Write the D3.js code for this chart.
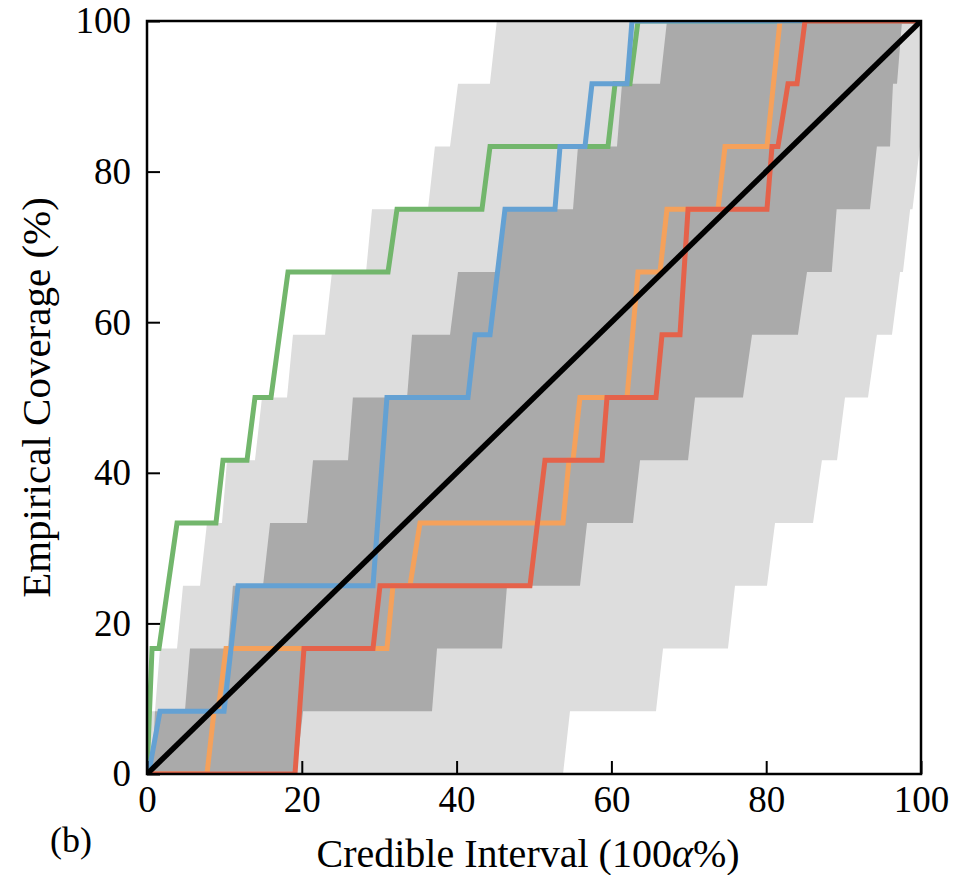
<!DOCTYPE html>
<html>
<head>
<meta charset="utf-8">
<script src="https://cdn.jsdelivr.net/npm/d3@7"></script>
<style>
  body { margin: 0; background: #fff; }
  text { font-family: "Liberation Serif", "DejaVu Serif", serif; fill: #000; }
</style>
</head>
<body>
<svg id="viz"></svg>
<script>
var width = 968;
var height = 875;
var margin = {top: 21, right: 47, bottom: 101, left: 147};

// coverage levels (k / 12)
var levels = [0, 8.33, 16.67, 25, 33.33, 41.67, 50, 58.33, 66.67, 75, 83.33, 91.67, 100];

// outer band (light): left edge, x at bottom / top of each step
var outerUpperBottom = [0.0, 1.03, 3.88, 6.85, 9.69, 13.95, 18.09, 23.0, 28.3, 36.3, 39.15, 44.3];
var outerUpperTop    = [0.5, 1.68, 4.65, 7.75, 10.34, 14.86, 18.86, 23.9, 29.07, 37.2, 40.18, 45.2];
// outer band: right edge
var outerLowerBottom = [53.75, 65.76, 75.06, 80.1, 86.05, 89.15, 93.15, 96.25, 97.67, 98.9, 100, 100];
var outerLowerTop    = [54.65, 66.67, 75.97, 81.14, 87.2, 90.18, 94.3, 97.3, 98.6, 99.87, 100, 100];

// inner band (dark)
var innerUpperBottom = [0.65, 4.9, 10.47, 14.99, 20.67, 25.97, 33.6, 39.15, 45.2, 55.04, 60.72, 66.28];
var innerUpperTop    = [1.03, 5.56, 11.1, 15.9, 21.45, 26.6, 34.24, 40.18, 46.25, 55.68, 61.37, 67.18];
var innerLowerBottom = [19.25, 36.82, 45.87, 55.94, 62.79, 69.9, 77.0, 84.1, 88.47, 93.4, 96.0, 96.9];
var innerLowerTop    = [20.16, 37.47, 46.51, 56.85, 63.7, 70.8, 78.17, 85.27, 89.1, 94.3, 96.38, 97.55];

// empirical coverage curves
var greenX = [0, 0.65, 1.55, 3.88, 8.91, 9.82, 12.92, 13.95, 16.02, 18.22, 31.14, 32.3, 43.28, 44.32, 59.56, 60.47, 62.4, 63.44, 100];
var greenY = [0, 16.67, 16.67, 33.33, 33.33, 41.67, 41.67, 50, 50, 66.67, 66.67, 75, 75, 83.33, 83.33, 91.67, 91.67, 100, 100];

var blueX = [0.2, 1.68, 9.95, 11.76, 29.2, 31.0, 41.47, 42.38, 44.32, 46.25, 52.71, 53.36, 56.59, 57.49, 62.02, 62.66, 100];
var blueY = [0, 8.33, 8.33, 25, 25, 50, 50, 58.33, 58.33, 75, 75, 83.33, 83.33, 91.67, 91.67, 100, 100];

var orangeX = [0, 7.75, 8.66, 9.17, 10.21, 31.0, 31.78, 33.98, 35.27, 53.75, 54.52, 55.04, 55.94, 62.02, 63.44, 66.28, 67.18, 73.77, 74.68, 80.1, 81.78, 100];
var orangeY = [0, 0, 8.33, 8.33, 16.67, 16.67, 25, 25, 33.33, 33.33, 41.67, 41.67, 50, 50, 66.67, 66.67, 75, 75, 83.33, 83.33, 100, 100];

var redX = [0, 19.12, 20.28, 29.2, 30.1, 49.48, 51.42, 58.79, 59.43, 65.76, 66.54, 68.86, 69.9, 80.1, 80.75, 81.52, 82.82, 83.98, 85.01, 100];
var redY = [0, 0, 16.67, 16.67, 25, 25, 41.67, 41.67, 50, 50, 58.33, 58.33, 75, 75, 83.33, 83.33, 91.67, 91.67, 100, 100];

var diagX = [0, 100];
var diagY = [0, 100];

var xTicks = [0, 20, 40, 60, 80, 100];
var yTicks = [0, 20, 40, 60, 80, 100];

var svg = d3.select("#viz")
    .attr("width", width)
    .attr("height", height);

var w = width - margin.left - margin.right;
var h = height - margin.top - margin.bottom;

var x = d3.scaleLinear().domain([0, 100]).range([0, w]);
var y = d3.scaleLinear().domain([0, 100]).range([h, 0]);

var g = svg.append("g")
    .attr("transform", "translate(" + margin.left + "," + margin.top + ")");

g.append("clipPath").attr("id", "clip")
    .append("rect").attr("width", w).attr("height", h);

var plot = g.append("g").attr("clip-path", "url(#clip)");

var line = d3.line()
    .x(function (d) { return x(d[0]); })
    .y(function (d) { return y(d[1]); });

// polygon of a band: left edge up, then right edge back down
function bandPoints(ub, ut, lb, lt) {
    var pts = [[0, 0]];
    for (var k = 0; k < 12; k++) {
        pts.push([ub[k], levels[k]], [ut[k], levels[k + 1]]);
    }
    pts.push([100, 100]);
    for (var k = 11; k >= 0; k--) {
        pts.push([lt[k], levels[k + 1]], [lb[k], levels[k]]);
    }
    return pts;
}

plot.append("path")
    .attr("d", line(bandPoints(outerUpperBottom, outerUpperTop, outerLowerBottom, outerLowerTop)) + "Z")
    .attr("fill", "#dddddd");

plot.append("path")
    .attr("d", line(bandPoints(innerUpperBottom, innerUpperTop, innerLowerBottom, innerLowerTop)) + "Z")
    .attr("fill", "#aaaaaa");

var curves = [
    {xs: greenX, ys: greenY, color: "#72b66c"},
    {xs: orangeX, ys: orangeY, color: "#f5a15b"},
    {xs: blueX, ys: blueY, color: "#64a1d3"},
    {xs: redX, ys: redY, color: "#e5624a"},
    {xs: diagX, ys: diagY, color: "#000000"}
];

curves.forEach(function (c) {
    var pts = c.xs.map(function (v, i) { return [v, c.ys[i]]; });
    plot.append("path")
        .attr("d", line(pts))
        .attr("fill", "none")
        .attr("stroke", c.color)
        .attr("stroke-width", c.color === "#000000" ? 5.5 : 5)
        .attr("stroke-linejoin", "miter");
});

// axes, ticks pointing inward
var xAxis = g.append("g")
    .attr("transform", "translate(0," + h + ")")
    .call(d3.axisBottom(x).tickValues(xTicks).tickSizeInner(-13).tickSizeOuter(0).tickPadding(12));

var yAxis = g.append("g")
    .call(d3.axisLeft(y).tickValues(yTicks).tickSizeInner(-13).tickSizeOuter(0).tickPadding(16));

[xAxis, yAxis].forEach(function (a) {
    a.select(".domain").remove();
    a.selectAll(".tick line").attr("stroke", "#000").attr("stroke-width", 2);
    a.selectAll(".tick text")
        .style("font-family", "'Liberation Serif', serif")
        .style("font-size", "37px");
});

g.append("rect")
    .attr("width", w)
    .attr("height", h)
    .attr("fill", "none")
    .attr("stroke", "#000")
    .attr("stroke-width", 2.5);

var xLabel = svg.append("text")
    .attr("x", 528)
    .attr("y", 867)
    .attr("text-anchor", "middle")
    .style("font-size", "40px");
xLabel.append("tspan").text("Credible Interval (100");
xLabel.append("tspan").style("font-style", "italic").text("α");
xLabel.append("tspan").text("%)");

svg.append("text")
    .attr("transform", "translate(50," + (margin.top + h / 2) + ") rotate(-90)")
    .attr("text-anchor", "middle")
    .style("font-size", "41px")
    .text("Empirical Coverage (%)");

svg.append("text")
    .attr("x", 50)
    .attr("y", 852)
    .style("font-size", "36px")
    .text("(b)");
</script>
</body>
</html>
